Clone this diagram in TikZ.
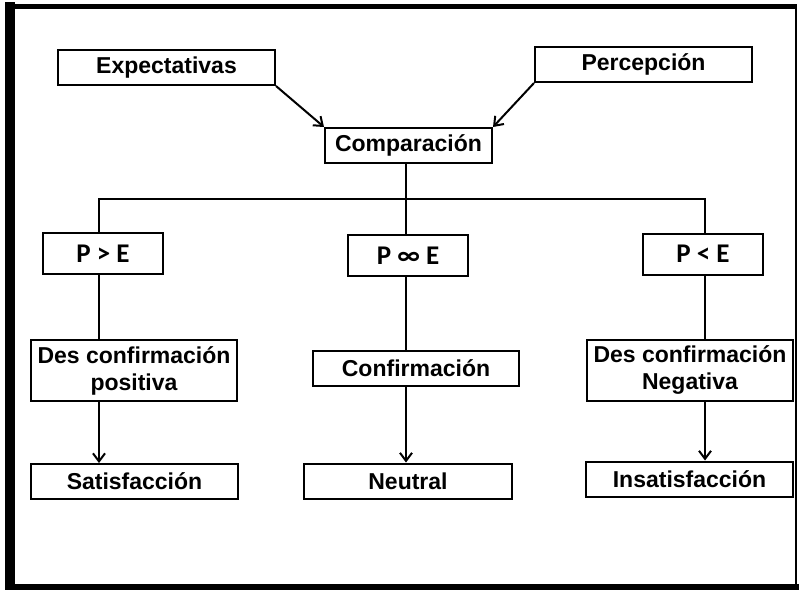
\documentclass[tikz,border=0pt]{standalone}
\usepackage{fontspec}
\setmainfont{Liberation Sans}
\newfontfamily\relfont{Carlito}
\usetikzlibrary{arrows.meta}

\tikzset{
  box/.style={draw, line width=2pt, inner sep=0pt, minimum height=35pt,
    align=center, font=\fontsize{23}{27}\selectfont\bfseries},
  twobox/.style={box, minimum width=206pt, minimum height=61pt},
  relbox/.style={box, minimum width=120pt, minimum height=41pt,
    font=\fontsize{27}{30}\selectfont\relfont\bfseries},
  link/.style={line width=2pt},
  arrow/.style={link, -{Straight Barb[length=8pt,width=12pt,line width=2pt]}}
}

\begin{document}
\begin{tikzpicture}[x=1pt, y=-1pt]
    \useasboundingbox (0,0) rectangle (799,590);

    % frame
    \draw[line width=10pt] (10,2) -- (10,590);
    \draw[line width=5pt] (5,6.5) -- (797,6.5);
    \draw[line width=2pt] (796,4) -- (796,590);
    \draw[line width=6pt] (5,587) -- (799,587);

    \node[box, minimum width=217pt] (expect) at (166.5,67.5) {Expectativas};
    \node[box, minimum width=217pt] (percep) at (643.5,64.5) {Percepción};
    \node[box, minimum width=167pt] (compar) at (408.5,145.5) {Comparación};

    \node[relbox] (pmayor) at (103,253.5) {P > E};
    \node[relbox] (pigual) at (408,255.5) {P ∞ E};
    \node[relbox] (pmenor) at (703,254) {P < E};

    \node[twobox] (despos) at (134,370.5) {Des confirmación\\positiva};
    \node[box, minimum width=206pt] (confir) at (416,368) {Confirmación};
    \node[twobox] (desneg) at (690,370) {Des confirmación\\Negativa};

    \node[box, minimum width=207pt] (satisf) at (134.5,481.5) {Satisfacción};
    \node[box, minimum width=208pt] (neutral) at (408,481) {Neutral};
    \node[box, minimum width=207pt] (insat) at (689.5,479) {Insatisfacción};

    % columns and bus
    \coordinate (colA) at (99,0);
    \coordinate (colB) at (406,0);
    \coordinate (colC) at (705,0);
    \coordinate (bus) at (0,199);

    \draw[arrow] (expect.south east) -- (compar.north west);
    \draw[arrow] (percep.south west) -- (compar.north east);

    \draw[link] (compar.south -| colB) -- (pigual.north -| colB);
    \draw[link] (pmayor.north -| colA) -- (bus -| colA) -- (bus -| colC) -- (pmenor.north -| colC);

    \draw[link] (pmayor.south -| colA) -- (despos.north -| colA);
    \draw[link] (pigual.south -| colB) -- (confir.north -| colB);
    \draw[link] (pmenor.south -| colC) -- (desneg.north -| colC);

    \draw[arrow] (despos.south -| colA) -- (satisf.north -| colA);
    \draw[arrow] (confir.south -| colB) -- (neutral.north -| colB);
    \draw[arrow] (desneg.south -| colC) -- (insat.north -| colC);
\end{tikzpicture}
\end{document}
